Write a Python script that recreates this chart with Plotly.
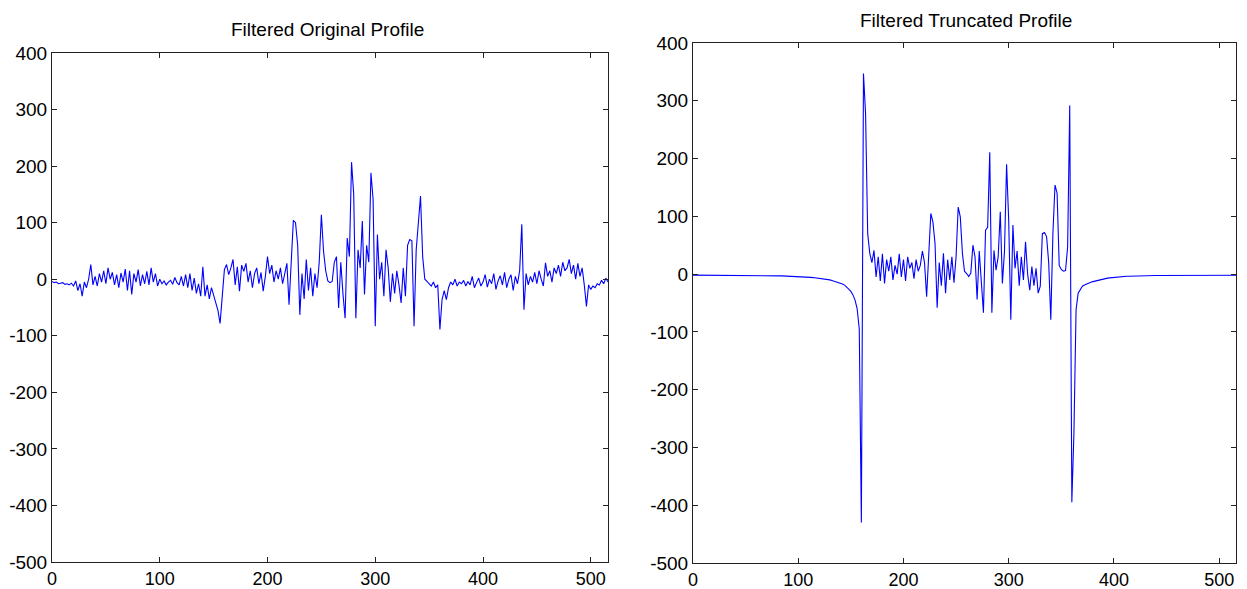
import plotly.graph_objects as go

# sample index step used for both profiles
sample_step = 2
n_samples = 517

original_profile = [
    -4, -6, -5, -8, -7, -6, -9, -8, -10, -7,
    -12, -3, -20, -8, -30, -5, -15, 0, 26, -10,
    5, -12, 10, -5, 15, -8, 20, 0, 12, -10,
    8, -15, 11, -5, 18, -20, 15, -27, 10, -5,
    17, -12, 8, -8, 14, -10, 20, -5, 10, -12,
    0, -8, -3, -10, -5, -2, -9, 3, -6, -10,
    5, -12, 8, -15, 10, -20, 2, -25, -8, -30,
    22, -30, -10, -35, -15, -28, -42, -55, -78, -30,
    17, 26, 8, 20, 35, -10, 22, -21, 25, 14,
    28, -5, 15, -15, 10, 20, -8, 12, -21, 5,
    40, 10, 25, -5, 15, 0, 20, -8, 10, 28,
    -45, 40, 104, 100, 60, -63, 10, -35, 35, -20,
    20, -30, 10, -15, 30, 114, 50, 15, -3, -6,
    -4, 30, 40, -51, 30, -25, -69, 73, 40, 207,
    150, -69, 52, 20, 103, -27, 60, 30, 188, 141,
    -83, 79, 0, 30, -30, 52, 20, -40, 10, -25,
    15, -10, -42, 20, -30, 60, 70, 68, -83, 52,
    103, 147, 40, 0, -4, -8, -12, -5, -15, -10,
    -89, -36, -20, -36, -15, -5, -10, 0, -12, -5,
    -8, -2, -12, -4, -10, 5, -15, -6, 2, -12,
    -5, 8, -14, 0, -8, 10, -18, -3, 6, -10,
    12, -15, 0, 8, -20, 5, -8, 15, 97, -54,
    10, -10, 5, -5, 12, -8, 15, 0, -12, 29,
    5, 15, -5, 20, 10, 25, 5, 30, 15, 20,
    35, 10, 25, 0, 28, 5, 20, -10, -48, -10,
    -18, -12, -15, -8, -10, -2, -8, 2, -5,
]

truncated_profile = [
    -1.7, -1.7, -1.8, -1.8, -1.8, -1.9, -1.9, -1.9, -2.0, -2.0,
    -2.0, -2.0, -2.1, -2.1, -2.1, -2.2, -2.2, -2.2, -2.3, -2.3,
    -2.3, -2.3, -2.4, -2.4, -2.4, -2.4, -2.5, -2.5, -2.5, -2.5,
    -2.5, -2.5, -2.6, -2.6, -2.7, -2.7, -2.8, -2.8, -2.9, -2.9,
    -3.0, -3.0, -3.1, -3.2, -3.3, -3.4, -3.5, -3.6, -3.7, -3.8,
    -4.0, -4.2, -4.4, -4.7, -5.0, -5.3, -5.6, -6.0, -6.4, -6.9,
    -7.4, -7.9, -8.5, -9.0, -9.5, -10, -11, -12, -13, -14,
    -15, -17, -19, -22, -26, -30, -36, -45, -60, -95,
    -430, 347, 277, 70, 36, 20, 41, -5, 30, -12,
    35, -16, 25, 5, 30, -10, 15, 0, 35, -5,
    25, -12, 30, 10, 20, -8, 25, 5, 15, 40,
    20, -39, 47, 105, 90, 53, -58, 20, -20, 36,
    -33, 25, -10, 30, -15, 30, 116, 99, 36, 5,
    1, -4, 2, 50, 30, -44, 40, -10, -67, 76,
    81, 211, -67, 41, 7, 30, 108, -16, 40, 190,
    93, -79, 85, 10, 40, -20, 30, -10, 56, 0,
    -28, 13, -20, 10, -33, -21, 70, 72, 65, 20,
    -79, 70, 154, 140, 15, 8, 5, 6, 47, 292,
    -395, -274, -62, -33, -26, -21, -19, -17, -15, -14,
    -13, -12, -11, -10, -9, -8, -7.5, -7, -6.5, -6,
    -5.6, -5.2, -4.9, -4.6, -4.3, -4.0, -3.8, -3.6, -3.4, -3.2,
    -3.1, -3.0, -2.9, -2.8, -2.7, -2.6, -2.6, -2.5, -2.5, -2.4,
    -2.4, -2.3, -2.3, -2.3, -2.2, -2.2, -2.2, -2.1, -2.1, -2.1,
    -2.0, -2.0, -2.0, -2.0, -2.0, -2.0, -2.0, -2.0, -2.0, -2.0,
    -2.0, -2.0, -2.0, -2.0, -2.0, -2.0, -2.0, -2.0, -2.0, -2.0,
    -2.0, -1.9, -1.9, -1.9, -1.9, -1.9, -1.9, -1.9, -1.9,
]

x_ticks = [0, 100, 200, 300, 400, 500]
x_tick_labels = ["0", "100", "200", "300", "400", "500"]
y_ticks = [-500, -400, -300, -200, -100, 0, 100, 200, 300, 400]
y_tick_labels = ["-500", "-400", "-300", "-200", "-100", "0", "100", "200", "300", "400"]
titles = ["Filtered Original Profile", "Filtered Truncated Profile"]

sample_index = list(range(0, n_samples, sample_step))

# the page body adds an 8 px offset; lay out in window pixels and compensate
OFF = 8
W, H = 1247 - OFF, 589 - OFF
FONT = "Liberation Sans, Arial, sans-serif"

fig = go.Figure()
fig.add_trace(go.Scatter(x=sample_index[:len(original_profile)], y=original_profile,
                         mode="lines", line=dict(color="#0000FF", width=1.1),
                         xaxis="x", yaxis="y", showlegend=False, hoverinfo="skip"))
fig.add_trace(go.Scatter(x=sample_index[:len(truncated_profile)], y=truncated_profile,
                         mode="lines", line=dict(color="#0000FF", width=1.1),
                         xaxis="x2", yaxis="y2", showlegend=False, hoverinfo="skip"))

def px_x(p):
    return (p - OFF) / W

def px_y(p):
    return 1 - (p - OFF) / H

axis_common = dict(showgrid=False, zeroline=False, showline=True, linecolor="#222222",
                   linewidth=1, mirror="allticks", ticks="inside", ticklen=5,
                   tickcolor="#222222", automargin=False)
yfont = dict(family=FONT, size=19, color="black")
xfont = dict(family=FONT, size=18, color="black")

fig.update_layout(
    width=W, height=H,
    margin=dict(l=0, r=0, t=0, b=0),
    paper_bgcolor="white", plot_bgcolor="white",
    xaxis=dict(domain=[px_x(52), px_x(608)], range=[0, 516], tickvals=x_ticks,
               ticktext=x_tick_labels, anchor="y", tickfont=xfont, **axis_common),
    yaxis=dict(domain=[px_y(562), px_y(53)], range=[-500, 400], tickvals=y_ticks,
               ticktext=y_tick_labels, anchor="x", tickfont=yfont, **axis_common),
    xaxis2=dict(domain=[px_x(693), px_x(1236)], range=[0, 516], tickvals=x_ticks,
                ticktext=x_tick_labels, anchor="y2", tickfont=xfont, **axis_common),
    yaxis2=dict(domain=[px_y(563), px_y(43)], range=[-500, 400], tickvals=y_ticks,
                ticktext=y_tick_labels, anchor="x2", tickfont=yfont, **axis_common),
    annotations=[
        dict(text=titles[0], x=px_x(328), y=px_y(29), xref="paper", yref="paper",
             showarrow=False, xanchor="center", yanchor="middle",
             font=dict(family=FONT, size=19, color="black")),
        dict(text=titles[1], x=px_x(966), y=px_y(20), xref="paper", yref="paper",
             showarrow=False, xanchor="center", yanchor="middle",
             font=dict(family=FONT, size=19, color="black")),
    ],
)

fig.write_html("out.html")
